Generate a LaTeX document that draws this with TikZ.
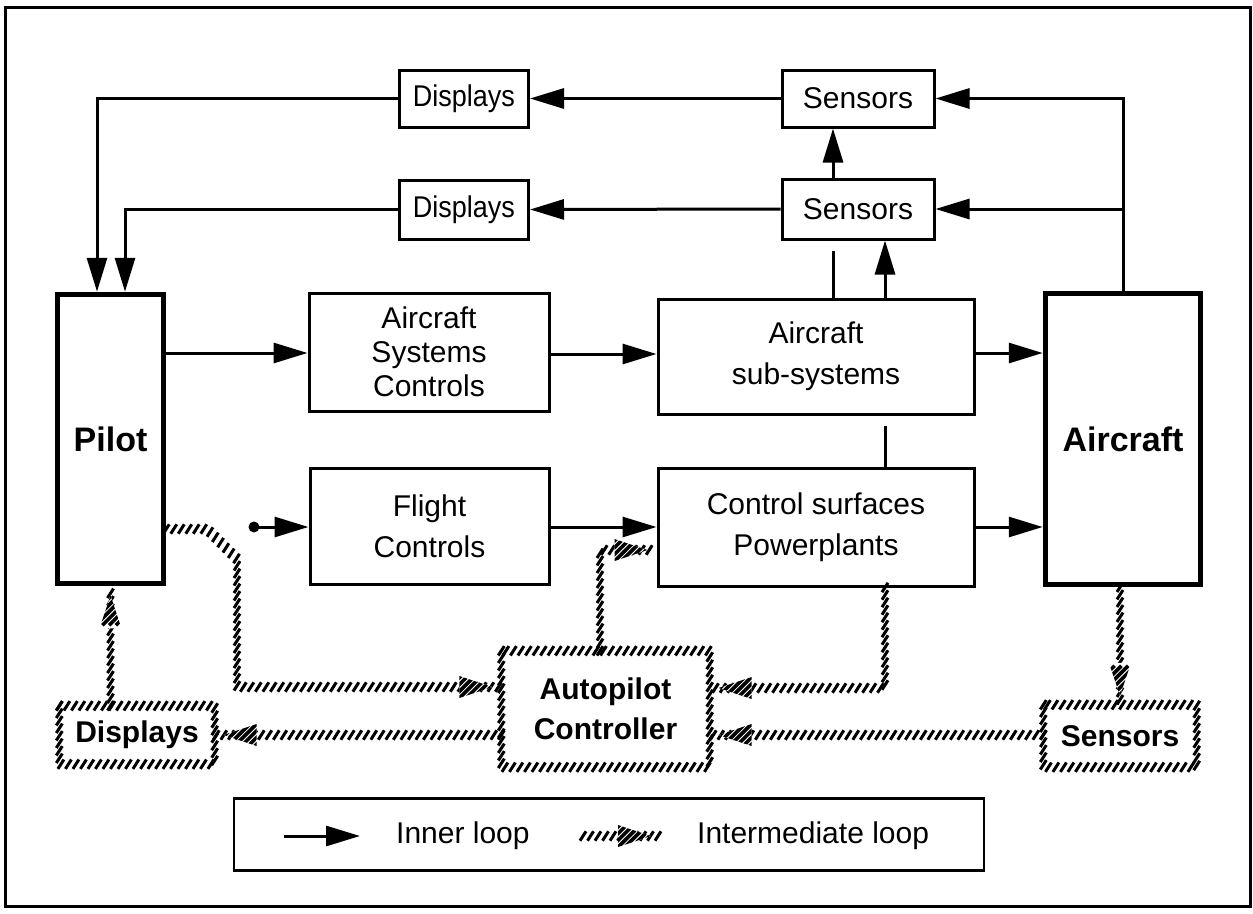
\documentclass[tikz,border=0pt]{standalone}
\usepackage{fontspec}
\usepackage{graphicx}
\setmainfont{Liberation Sans}
\usetikzlibrary{arrows.meta,decorations.markings}
\newcommand\HatchTick{\pgftransformresetnontranslations\draw[line width=3pt,line cap=butt] (-3pt,-4.7pt)--(3pt,4.7pt);}
\newcommand\HatchHead{%
  \fill[white] (-18pt,-11pt)--(15pt,0pt)--(-18pt,11pt)--cycle;
  \begin{scope}
    \clip (-18pt,-11pt)--(15pt,0pt)--(-18pt,11pt)--cycle;
    \pgftransformresetnontranslations
    \foreach \k in {-4,...,4}{\draw[line width=3.6pt] (\k*6.8pt-15pt,-15pt)--(\k*6.8pt+15pt,15pt);}
  \end{scope}}
\newcommand\NarrowText[1]{\scalebox{0.9}[1]{#1}}
\begin{document}
\begin{tikzpicture}[x=1pt,y=-1pt,
  box/.style={draw,line width=3pt,inner sep=0pt,align=center,font=\fontsize{30}{41}\selectfont},
  thickbox/.style={draw,line width=5.5pt,inner sep=0pt,align=center,font=\fontsize{34}{40}\selectfont\bfseries},
  hbox/.style={inner sep=0pt,align=center,font=\fontsize{30}{40}\selectfont\bfseries},
  arr/.style={line width=3pt,-{Triangle[length=34pt,width=20pt]}},
  plain/.style={line width=3pt},
  hatchline/.style={postaction={decorate,decoration={markings,mark=between positions 0 and 1 step 7.5pt with {\HatchTick}}}},
  hatcharrow/.style={hatchline,postaction={decorate,decoration={markings,reset marks,mark=at position -24pt with {\HatchHead}}}}
]
\useasboundingbox (0,0) rectangle (1253,913);
\draw[line width=3pt] (5,7) rectangle (1250,906);

% helper x positions
\coordinate (xa) at (97,0);
\coordinate (xb) at (125,0);
\coordinate (xc) at (833,0);
\coordinate (xd) at (885,0);
\coordinate (xe) at (600,0);

% inner loop boxes
\node[box,minimum width=129pt,minimum height=57pt] (dispT) at (464,98.5) {\NarrowText{Displays}};
\node[box,minimum width=152pt,minimum height=57pt] (sensT) at (858,98.5) {Sensors};
\node[box,minimum width=129pt,minimum height=59pt] (dispM) at (464,209.5) {\NarrowText{Displays}};
\node[box,minimum width=152pt,minimum height=60pt] (sensM) at (858,209) {Sensors};
\node[thickbox,minimum width=106pt,minimum height=289pt] (pilot) at (110.5,439) {Pilot};
\node[box,minimum width=240pt,minimum height=118pt,font=\fontsize{30}{34}\selectfont] (asc) at (429,352) {Aircraft\\Systems\\Controls};
\node[box,minimum width=316pt,minimum height=115pt] (sub) at (816,356.5) {Aircraft\\sub-systems};
\node[thickbox,minimum width=155pt,minimum height=291pt] (air) at (1123,439) {Aircraft};
\node[box,minimum width=239pt,minimum height=116pt] (fc) at (429.5,526) {Flight\\Controls};
\node[box,minimum width=316pt,minimum height=118pt] (cs) at (816,527) {Control surfaces\\Powerplants};

% intermediate loop boxes
\node[hbox,minimum width=208pt,minimum height=116pt] (auto) at (605.5,709) {Autopilot\\Controller};
\node[hbox,minimum width=155pt,minimum height=58pt] (dispB) at (137,735) {Displays};
\node[hbox,minimum width=153pt,minimum height=62pt] (sensB) at (1120,736) {Sensors};
\path[hatchline] (auto.north west) rectangle (auto.south east);
\path[hatchline] (dispB.north west) rectangle (dispB.south east);
\path[hatchline] (sensB.north west) rectangle (sensB.south east);

% inner loop connectors
\draw[arr] (air.north) |- (sensT.east);
\draw[arr] (air.north |- sensM.east) -- (sensM.east);
\draw[arr] (sensT.west) -- (dispT.east);
\draw[arr] (sensM.west) -- (dispM.east);
\draw[arr] (dispT.west) -| (xa |- pilot.north);
\draw[arr] (dispM.west) -| (xb |- pilot.north);
\draw[arr] (sensM.north -| xc) -- (sensT.south -| xc);
\draw[plain,shorten >=10pt] (sub.north -| xc) -- (sensM.south -| xc);
\draw[arr] (sub.north -| xd) -- (sensM.south -| xd);
\draw[plain,shorten <=10pt] (sub.south -| xd) -- (cs.north -| xd);
\draw[arr] (pilot.east |- 0,353) -- (asc.west |- 0,353);
\draw[arr] (asc.east |- 0,354) -- (sub.west |- 0,354);
\draw[arr] (sub.east |- 0,353) -- (air.west |- 0,353);
\coordinate (dot) at (254,527);
\fill (dot) circle[radius=5.5pt];
\draw[arr] (dot) -- (fc.west |- dot);
\draw[arr] (fc.east |- 0,527) -- (cs.west |- 0,527);
\draw[arr] (cs.east |- 0,527) -- (air.west |- 0,527);

% intermediate loop connectors
\path[hatcharrow] (pilot.east |- 0,529) -- (207,529) -- (237,559) -- (237,687) -- (auto.west |- 0,687);
\path[hatcharrow] (auto.north -| xe) -- (600,550) -- (cs.west |- 0,550);
\path[hatcharrow] (cs.south -| xd) -- (885,688) -- (auto.east |- 0,688);
\path[hatcharrow] (auto.west |- 0,735) -- (dispB.east |- 0,735);
\path[hatcharrow] (sensB.west |- 0,735) -- (auto.east |- 0,735);
\path[hatcharrow] (air.south -| sensB.north) -- (sensB.north);
\path[hatcharrow] (dispB.north -| pilot.south) -- (pilot.south);

% legend
\node[draw,line width=2.6pt,minimum width=750pt,minimum height=72pt,inner sep=0pt] (legend) at (609,834.5) {};
\coordinate (la) at (284,836);
\coordinate (lb) at (360,836);
\draw[arr] (la) -- (lb);
\node[anchor=west,inner sep=0pt,font=\fontsize{30}{36}\selectfont] (lt1) at (396,836) {Inner loop};
\coordinate (lc) at (583,836);
\coordinate (ld) at (660,836);
\path[hatcharrow] (lc) -- (ld);
\node[anchor=west,inner sep=0pt,font=\fontsize{30}{36}\selectfont] (lt2) at (697,836) {Intermediate loop};
\end{tikzpicture}
\end{document}
